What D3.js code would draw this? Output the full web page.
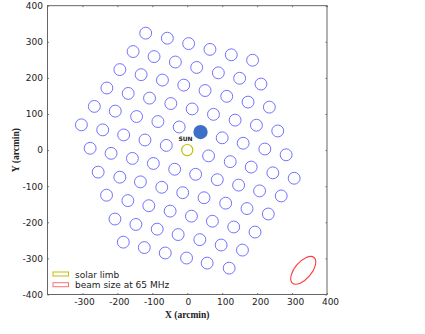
<!DOCTYPE html>
<html>
<head>
<meta charset="utf-8">
<script src="https://cdn.jsdelivr.net/npm/d3@7"></script>
<style>
  body { margin: 0; background: #fff; }
  text { font-family: "DejaVu Sans", sans-serif; }
</style>
</head>
<body>
<div id="chart"></div>
<script>
// beam centres (arcmin)
var beamX = [
  -119, -57, 4, 65, 126, 187,
  -155, -95, -34, 27, 89, 150, 211,
  -193, -132, -71, -10, 51, 113, 174, 235,
  -230, -169, -108, -47, 14, 75, 137, 198, 259,
  -266, -206, -145, -84, -23, 100, 160, 222, 283,
  -303, -242, -182, -121, -60, 61, 123, 183, 245, 306,
  -278, -218, -157, -97, -36, 24, 86, 147, 207, 269,
  -255, -193, -134, -73, -13, 48, 110, 171, 232,
  -231, -170, -110, -49, 12, 72, 133, 194,
  -207, -147, -86, -26, 36, 97, 158,
  -183, -123, -63, -2, 57, 120
];
var beamY = [
  324, 310, 295, 279, 264, 249,
  273, 259, 244, 229, 214, 199, 183,
  223, 209, 194, 180, 165, 149, 133, 119,
  172, 157, 144, 129, 114, 99, 83, 69, 53,
  121, 108, 93, 79, 64, 34, 19, 3, -13,
  70, 56, 42, 28, 13, -16, -32, -47, -63, -78,
  5, -9, -23, -37, -53, -67, -82, -97, -113, -127,
  -61, -75, -88, -103, -118, -132, -147, -162, -177,
  -125, -140, -154, -169, -183, -197, -213, -227,
  -191, -206, -219, -234, -248, -263, -277,
  -255, -270, -285, -299, -313, -327
];
var beamR = 17;

var sunPos = [38, 50];      // filled disc
var sunR = 20.5;
var limbPos = [0, 0];        // solar limb
var limbR = 16;
var beamSize = [332, -333, 48, 24, 50]; // cx, cy, semi-major, semi-minor, angle (deg)

var xTicks = [-300, -200, -100, 0, 100, 200, 300, 400];
var yTicks = [-400, -300, -200, -100, 0, 100, 200, 300, 400];
var legendLabels = ['solar limb', 'beam size at 65 MHz'];
var legendColors = ['#bfbf00', '#ff7070'];

var width = 425, height = 334;
var pLeft = 47.5, pRight = 327, pTop = 5.7, pBottom = 294.5;

var svg = d3.select('#chart').append('svg')
  .attr('width', width).attr('height', height)
  .style('background', '#fff');

var x = d3.scaleLinear().domain([-400, 400]).range([pLeft, pRight]);
var y = d3.scaleLinear().domain([-400, 400]).range([pBottom, pTop]);
var px = function(r) { return x(r) - x(0); };

// beams
var beams = d3.range(beamX.length).map(function(i) { return {x: beamX[i], y: beamY[i]}; });
svg.append('g').selectAll('circle')
  .data(beams)
  .enter()
  .append('circle')
  .attr('cx', function(d) { return x(d.x); })
  .attr('cy', function(d) { return y(d.y); })
  .attr('r', px(beamR))
  .attr('fill', 'none')
  .attr('stroke', '#6262ff')
  .attr('stroke-width', 0.9);

// sun disc
svg.append('circle')
  .attr('cx', x(sunPos[0])).attr('cy', y(sunPos[1]))
  .attr('r', px(sunR))
  .attr('fill', '#3d6fc6');

// solar limb
svg.append('circle')
  .attr('cx', x(limbPos[0])).attr('cy', y(limbPos[1]))
  .attr('r', px(limbR))
  .attr('fill', 'none')
  .attr('stroke', '#bfbf00')
  .attr('stroke-width', 1.2);

svg.append('text')
  .attr('x', x(-5)).attr('y', y(24))
  .attr('text-anchor', 'middle')
  .style('font-size', '6px').style('font-weight', 'bold')
  .attr('fill', '#222')
  .text('SUN');

// beam size ellipse
svg.append('ellipse')
  .attr('transform', 'translate(' + x(beamSize[0]) + ',' + y(beamSize[1]) + ') rotate(' + (-beamSize[4]) + ')')
  .attr('rx', px(beamSize[2]))
  .attr('ry', px(beamSize[3]))
  .attr('fill', 'none')
  .attr('stroke', '#ff3b3b')
  .attr('stroke-width', 1.1);

// axes (ticks inward on all four sides)
var xAxis = svg.append('g')
  .attr('transform', 'translate(0,' + pBottom + ')')
  .call(d3.axisBottom(x).tickValues(xTicks).tickSizeInner(-1.5).tickSizeOuter(0).tickPadding(4.6)
    .tickFormat(function(d) { return String(d); }));
xAxis.selectAll('text')
  .attr('dx', function(d) { return d === 0 ? 0.5 : (d > 0 ? 3 : 1.5); });

var yAxis = svg.append('g')
  .attr('transform', 'translate(' + pLeft + ',0)')
  .call(d3.axisLeft(y).tickValues(yTicks).tickSizeInner(-1.5).tickSizeOuter(0).tickPadding(4.5)
    .tickFormat(function(d) { return String(d); }));

svg.append('g')
  .attr('transform', 'translate(0,' + pTop + ')')
  .call(d3.axisTop(x).tickValues(xTicks).tickSizeInner(-1.5).tickSizeOuter(0).tickFormat(''));
svg.append('g')
  .attr('transform', 'translate(' + pRight + ',0)')
  .call(d3.axisRight(y).tickValues(yTicks).tickSizeInner(-1.5).tickSizeOuter(0).tickFormat(''));

svg.selectAll('.domain').remove();
svg.selectAll('.tick line').attr('stroke', '#555').attr('stroke-width', 0.8);
svg.selectAll('.tick text').style('font-size', '9px').style('font-family', '"DejaVu Sans", sans-serif').attr('fill', '#222');

svg.append('rect')
  .attr('x', pLeft).attr('y', pTop)
  .attr('width', pRight - pLeft).attr('height', pBottom - pTop)
  .attr('fill', 'none')
  .attr('stroke', '#555')
  .attr('stroke-width', 0.9);

// axis titles
svg.append('text')
  .attr('x', x(0)).attr('y', 318)
  .attr('text-anchor', 'middle')
  .style('font-family', '"Liberation Serif", serif').style('font-weight', 'bold').style('font-size', '9.5px')
  .attr('fill', '#222')
  .text('X (arcmin)');

svg.append('text')
  .attr('transform', 'translate(19,' + y(0) + ') rotate(-90)')
  .attr('text-anchor', 'middle')
  .style('font-family', '"Liberation Serif", serif').style('font-weight', 'bold').style('font-size', '9.5px')
  .attr('fill', '#222')
  .text('Y (arcmin)');

// legend
var legend = svg.append('g').attr('transform', 'translate(' + (pLeft + 5.5) + ',272)');
var items = legend.selectAll('g')
  .data(legendLabels)
  .enter()
  .append('g')
  .attr('transform', function(d, i) { return 'translate(0,' + (i * 10.7) + ')'; });
items.append('rect')
  .attr('width', 15.5).attr('height', 4)
  .attr('fill', 'none')
  .attr('stroke', function(d, i) { return legendColors[i]; })
  .attr('stroke-width', 1);
items.append('text')
  .attr('x', 22).attr('y', 5.6)
  .style('font-size', '9px')
  .attr('fill', '#222')
  .text(function(d) { return d; });
</script>
</body>
</html>
